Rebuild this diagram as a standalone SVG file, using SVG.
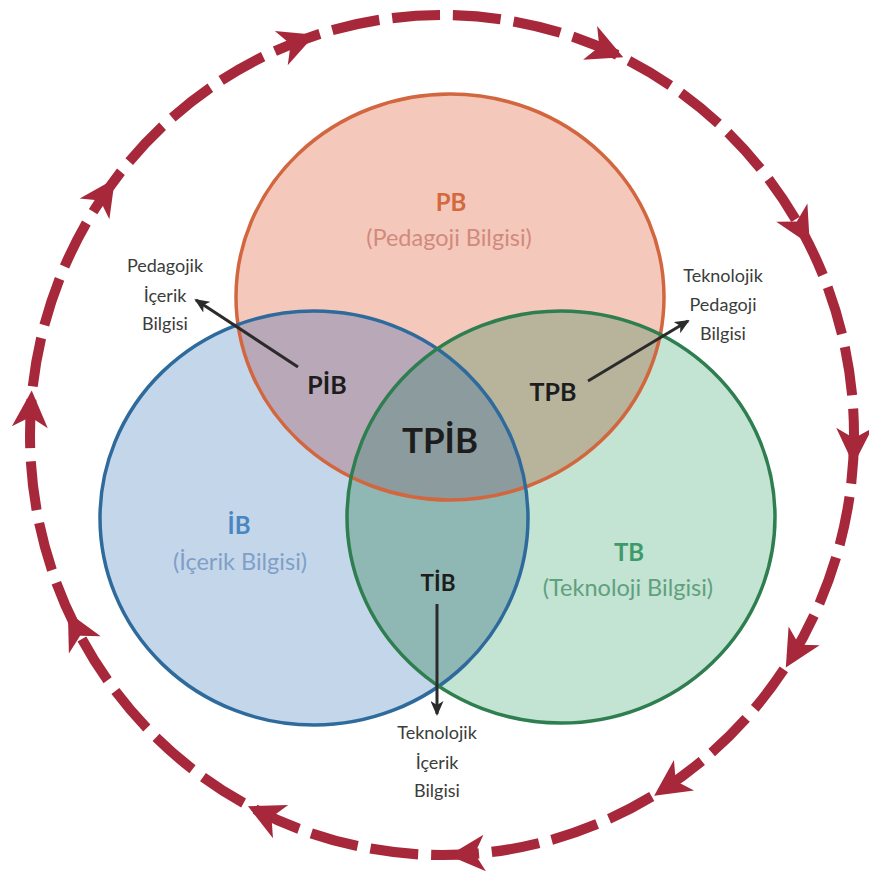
<svg xmlns="http://www.w3.org/2000/svg" xmlns:xlink="http://www.w3.org/1999/xlink" width="869" height="879" viewBox="0 0 869 879">
<style>
text{font-family:"Lato","Open Sans","Liberation Sans",sans-serif;text-anchor:middle}
.big{font-weight:bold;font-size:24px}
.sub{font-size:23.5px}
.ov{font-weight:bold;fill:#1d1d1d}
.call{font-size:18px;fill:#3a3d3a}
.outline{fill:none;stroke-width:3.5}
.conn{stroke:#2b2b2b;stroke-width:3;fill:none;marker-end:url(#ah)}
.ra{fill:#a7283a}
</style>
<defs>
<ellipse id="e-pb" cx="450" cy="297" rx="214" ry="203"/>
<ellipse id="e-ib" cx="314" cy="518" rx="214" ry="207"/>
<ellipse id="e-tb" cx="561" cy="517" rx="214" ry="206"/>
<clipPath id="cP"><use xlink:href="#e-pb"/></clipPath>
<clipPath id="cB"><use xlink:href="#e-ib"/></clipPath>
<clipPath id="cG"><use xlink:href="#e-tb"/></clipPath>
<marker id="ah" viewBox="0 0 15 13" refX="13" refY="6.5" markerWidth="15" markerHeight="13" markerUnits="userSpaceOnUse" orient="auto">
<path d="M0,0 L15,6.5 L0,13 L4,6.5 Z" fill="#2b2b2b"/>
</marker>
<polygon id="ringArrow" points="0,22 -18,-14 0,-4 18,-14"/>
</defs>

<g id="cycle" transform="translate(442,435) scale(1,1.0194)">
<circle r="412" fill="none" stroke="#a7283a" stroke-width="10" stroke-dasharray="48 13"/>
<use xlink:href="#ringArrow" class="ra" transform="rotate(-111) translate(412,0)"/>
<use xlink:href="#ringArrow" class="ra" transform="rotate(-67) translate(412,0)"/>
<use xlink:href="#ringArrow" class="ra" transform="rotate(-30) translate(412,0)"/>
<use xlink:href="#ringArrow" class="ra" transform="rotate(1) translate(412,0)"/>
<use xlink:href="#ringArrow" class="ra" transform="rotate(30.5) translate(412,0)"/>
<use xlink:href="#ringArrow" class="ra" transform="rotate(56) translate(412,0)"/>
<use xlink:href="#ringArrow" class="ra" transform="rotate(86) translate(412,0)"/>
<use xlink:href="#ringArrow" class="ra" transform="rotate(115) translate(412,0)"/>
<use xlink:href="#ringArrow" class="ra" transform="rotate(152) translate(412,0)"/>
<use xlink:href="#ringArrow" class="ra" transform="rotate(183) translate(412,0)"/>
<use xlink:href="#ringArrow" class="ra" transform="rotate(214.5) translate(412,0)"/>
</g>

<g id="pb">
<use xlink:href="#e-pb" fill="#f5c8bc"/>
<text class="big" x="451" y="211" fill="#d2693f">PB</text>
<text class="sub" x="449" y="246" fill="#d08a7c">(Pedagoji Bilgisi)</text>
</g>
<g id="ib">
<use xlink:href="#e-ib" fill="#c4d6ea"/>
<text class="big" x="239" y="534" fill="#4a86bf">İB</text>
<text class="sub" x="240" y="570" fill="#7f9fc7">(İçerik Bilgisi)</text>
</g>
<g id="tb">
<use xlink:href="#e-tb" fill="#c3e3d3"/>
<text class="big" x="629" y="561" fill="#3f9a6a">TB</text>
<text class="sub" x="628" y="596" fill="#5fa07e">(Teknoloji Bilgisi)</text>
</g>

<g id="pib">
<g clip-path="url(#cB)"><use xlink:href="#e-pb" fill="#b9a8b8"/></g>
</g>
<g id="tpb">
<g clip-path="url(#cG)"><use xlink:href="#e-pb" fill="#b8b39b"/></g>
</g>
<g id="tib">
<g clip-path="url(#cG)"><use xlink:href="#e-ib" fill="#8fb7b4"/></g>
</g>
<g id="tpib">
<g clip-path="url(#cG)"><g clip-path="url(#cB)"><use xlink:href="#e-pb" fill="#8c9c9e"/></g></g>
</g>

<g id="outlines">
<use xlink:href="#e-pb" class="outline" stroke="#d2673f"/>
<use xlink:href="#e-ib" class="outline" stroke="#2e6b9c"/>
<use xlink:href="#e-tb" class="outline" stroke="#2e7e50"/>
</g>

<g id="overlap-labels">
<text class="ov" x="327" y="394" font-size="25">PİB</text>
<text class="ov" x="553" y="401" font-size="25">TPB</text>
<text class="ov" x="440" y="453" font-size="35">TPİB</text>
<text class="ov" x="438" y="591" font-size="22.5">TİB</text>
</g>

<g id="connectors">
<line class="conn" x1="298" y1="367" x2="196" y2="300"/>
<line class="conn" x1="588" y1="381" x2="688" y2="321"/>
<line class="conn" x1="437" y1="604" x2="437" y2="714"/>
</g>

<g id="lbl-pib">
<text class="call" x="165" y="272">Pedagojik</text>
<text class="call" x="165" y="302">İçerik</text>
<text class="call" x="165" y="330">Bilgisi</text>
</g>
<g id="lbl-tpb">
<text class="call" x="723" y="282">Teknolojik</text>
<text class="call" x="723" y="311">Pedagoji</text>
<text class="call" x="723" y="340">Bilgisi</text>
</g>
<g id="lbl-tib">
<text class="call" x="437" y="739">Teknolojik</text>
<text class="call" x="437" y="769">İçerik</text>
<text class="call" x="437" y="797">Bilgisi</text>
</g>
</svg>
